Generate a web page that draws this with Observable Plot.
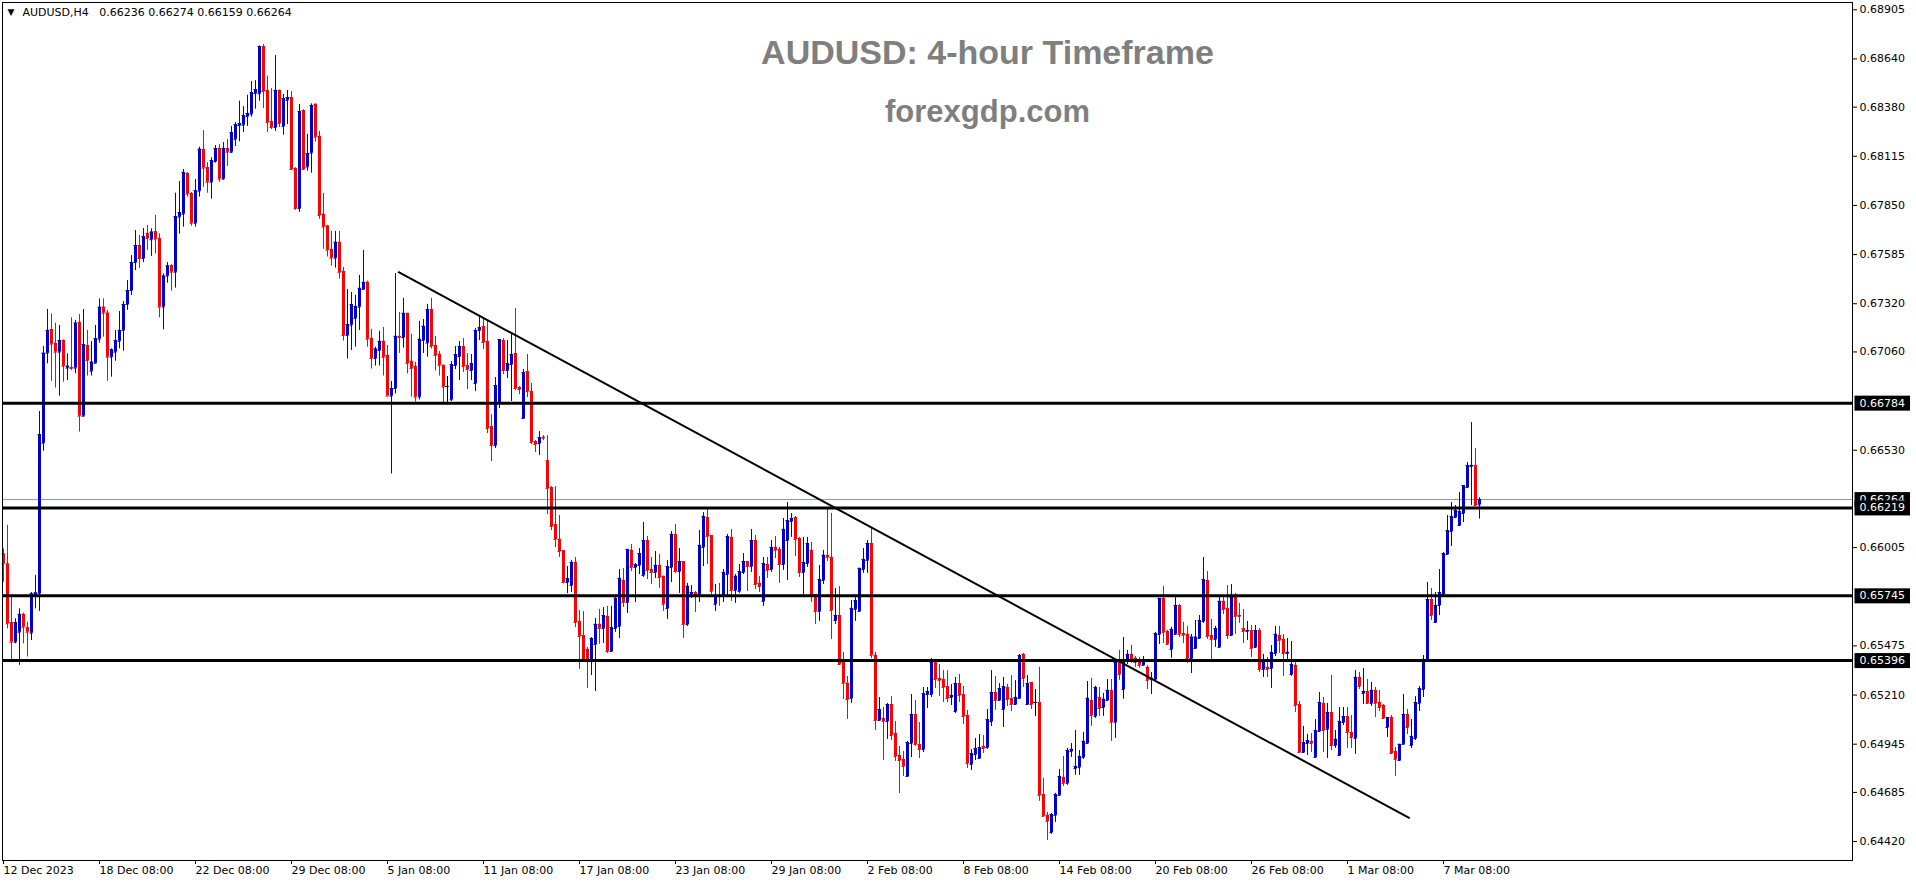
<!DOCTYPE html>
<html><head><meta charset="utf-8">
<script src="https://cdn.jsdelivr.net/npm/d3@7"></script>
<script src="https://cdn.jsdelivr.net/npm/@observablehq/plot@0.6"></script>
<style>body{margin:0;background:#fff;overflow:hidden}</style>
</head><body><div id="chart"></div>
<script>
// AUDUSD H4 candles, prices in points (1e-5), bar 0 = 12 Dec 2023 08:00
const openPts = [65971,65917,65601,65495,65549,65645,65573,65544,65749,65756,66568,67053,67181,67106,67059,67122,66973,66976,66973,67219,66714,67095,66956,66999,67129,67301,67269,67032,67059,67118,67176,67316,67391,67542,67634,67564,67699,67665,67708,67672,67302,67469,67526,67490,67787,67803,68022,67914,67754,67927,68152,68054,67975,68087,68157,67992,68157,68137,68207,68281,68283,68329,68342,68453,68452,68707,68470,68302,68270,68470,68276,68417,68432,68049,67833,68362,68057,68132,68395,68222,67802,67739,67613,67566,67651,67494,67149,67205,67241,67302,67397,67435,67133,67025,67068,67117,67041,66822,66863,67144,67138,67268,67009,66982,66817,67122,67108,67289,67095,67047,66988,66874,66802,66987,67035,67089,66987,66960,66890,67175,67197,67116,66658,66555,66787,67121,66960,66992,67051,66868,66701,66954,66846,66577,66566,66600,66474,66329,66129,66049,65989,65817,65801,65925,65607,65531,65456,65396,65483,65591,65569,65634,65445,65569,65580,65828,65709,65990,65898,65909,65855,66043,65887,65871,65909,65850,65677,65898,66076,65876,65930,65591,65752,65763,65752,66006,66167,66070,65699,65747,65742,65860,66060,65774,65769,65871,65930,65903,66043,65812,65715,65914,65887,66006,65995,65914,66043,66146,66167,66054,65871,65919,65990,65752,65661,65828,65963,65952,65612,65639,65386,65273,65192,65672,65661,65887,65936,66027,65424,65073,65084,65068,65159,65003,64884,64863,64771,64949,65105,64943,64916,65213,65213,65385,65299,65294,65256,65197,65121,65272,65213,65100,64836,64889,64868,64933,64927,65067,65224,65181,65132,65251,65191,65159,65191,65429,65159,65278,65170,65170,64674,64561,64469,64561,64669,64766,64734,64906,64814,64820,64874,64949,65181,65095,65197,65143,65181,65235,65063,65386,65240,65397,65429,65408,65391,65370,65359,65294,65294,65537,65731,65553,65456,65537,65693,65542,65537,65407,65461,65515,65607,65828,65531,65510,65467,65715,65677,65531,65736,65639,65569,65553,65558,65467,65558,65348,65359,65353,65434,65531,65510,65434,65321,65370,65159,64900,64949,64960,64874,65014,65165,65025,65116,64938,64884,65062,65094,65008,64976,65305,65218,65229,65165,65235,65170,65154,65035,65089,64906,64857,64944,65105,64938,64976,65165,65240,65402,65725,65601,65693,65752,65968,66092,66167,66124,66189,66329,66442,66448,66236];
const highPts = [65998,66124,65738,65621,65675,65652,65603,65763,65855,66739,67089,67289,67265,67215,67203,67125,67050,67244,67230,67262,67289,67176,67116,67203,67346,67346,67283,67077,67176,67278,67332,67445,67580,67715,67688,67726,67742,67724,67796,67697,67481,67542,67530,67916,67979,68044,68028,67920,67990,68164,68254,68081,68107,68173,68178,68189,68205,68276,68297,68412,68383,68444,68518,68523,68710,68718,68547,68480,68658,68473,68448,68470,68464,68054,68394,68366,68233,68398,68398,68249,67915,67742,67710,67710,67710,67516,67397,67381,67365,67473,67607,67442,67182,67086,67171,67192,67095,66901,67483,67273,67349,67268,67155,67004,67225,67235,67316,67349,67144,67063,66988,66928,67008,67089,67116,67132,67051,67046,67186,67251,67235,67229,66722,66922,67127,67132,67121,67159,67294,66873,66965,67046,66890,66582,66631,66609,66609,66334,66334,66178,65989,65903,65935,65952,65666,65660,65466,65520,65623,65672,65682,65688,65688,65742,65887,65893,65995,66022,65919,66000,66141,66065,65952,65984,65968,65850,65936,66092,66130,66000,65930,65812,65801,65769,66097,66194,66216,66070,65806,65812,65887,66076,66103,65860,65914,65973,65930,66103,66070,65849,65952,65952,66043,66065,66006,66162,66248,66189,66173,66060,66060,66060,66033,65752,65909,65990,66216,66189,65785,65796,65440,65310,65720,65742,65893,66000,66043,66108,65440,65197,65143,65165,65202,65067,64933,64906,64960,65213,65181,65062,65251,65251,65407,65391,65375,65342,65342,65267,65305,65321,65256,65127,64916,64976,64997,64992,65132,65342,65310,65272,65305,65267,65315,65288,65429,65434,65315,65278,65240,65359,64761,64577,64572,64680,64809,64879,64922,64949,65019,64911,65009,65283,65300,65257,65251,65219,65294,65294,65402,65451,65521,65451,65478,65418,65413,65418,65370,65332,65548,65731,65796,65558,65575,65736,65699,65602,65580,65537,65612,65639,65952,65876,65618,65580,65736,65736,65801,65806,65758,65704,65671,65607,65585,65585,65569,65429,65413,65477,65580,65580,65537,65515,65499,65386,65175,65041,64998,65003,65078,65224,65197,65165,65316,65019,65143,65143,65143,65100,65342,65332,65353,65294,65278,65251,65235,65159,65089,65100,64927,64944,65213,65132,65078,65202,65256,65423,65817,65785,65763,65887,65979,66178,66248,66232,66302,66340,66464,66679,66539,66274];
const lowPts = [65818,65567,65400,65486,65370,65486,65415,65504,65675,65661,66525,66996,66902,66865,66822,66897,66906,66960,66942,66628,66708,66930,66930,66999,67107,67140,66902,66924,67010,67077,67064,67284,67364,67499,67510,67542,67607,67575,67589,67244,67179,67431,67388,67404,67695,67733,67895,67738,67733,67895,67948,67916,67884,68078,67975,67986,68060,68130,68168,68193,68243,68276,68326,68369,68412,68373,68243,68259,68249,68270,68229,68286,68038,67823,67812,68039,68035,68024,68192,67775,67613,67572,67523,67512,67453,67119,67022,67068,67086,67176,67397,67086,66968,66984,66984,66930,66822,66402,66833,67052,67081,66941,66817,66790,66801,67052,67032,67076,66957,66930,66775,66775,66793,66965,66906,66949,66857,66906,66846,67121,67073,66620,66469,66539,66755,66938,66917,66793,66852,66830,66701,66814,66561,66518,66501,66582,66183,66097,66005,65952,65810,65757,65763,65574,65348,65396,65245,65315,65229,65483,65488,65434,65445,65548,65515,65682,65650,65876,65709,65860,65844,65833,65806,65839,65785,65661,65618,65817,65866,65758,65515,65580,65731,65655,65709,65903,65914,65752,65661,65688,65709,65742,65715,65704,65758,65860,65768,65871,65779,65763,65688,65839,65871,65946,65812,65882,65828,66060,65957,65844,65752,65898,65709,65591,65607,65806,65930,65510,65591,65370,65186,65079,65165,65607,65661,65866,65866,65407,65019,65073,64857,64971,64965,64852,64679,64771,64771,64873,64933,64868,64900,65137,65197,65245,65202,65170,65170,65154,65111,65170,65051,64814,64803,64857,64868,64895,64916,65040,65127,65181,65035,65148,65121,65154,65186,65251,65159,65132,65094,64637,64556,64426,64459,64523,64663,64717,64723,64874,64777,64777,64863,64949,65041,65084,65095,65095,65181,64960,64976,65289,65187,65375,65381,65359,65354,65370,65240,65213,65289,65483,65488,65478,65408,65537,65521,65488,65380,65326,65456,65515,65596,65510,65402,65467,65467,65644,65510,65531,65537,65596,65488,65504,65413,65461,65332,65305,65305,65246,65418,65434,65310,65396,65310,65116,64900,64900,64884,64900,64868,65008,64900,64868,64911,64922,64884,65046,64922,64922,64890,65240,65159,65159,65148,65089,65121,65078,64981,64895,64771,64852,64944,64997,64922,64965,65121,65197,65402,65612,65601,65639,65752,65968,66011,66167,66124,66140,66329,66232,66227,66159];
const closePts = [65917,65594,65495,65601,65645,65576,65549,65756,65761,66615,67053,67176,67102,67059,67122,66983,66983,66971,67215,66714,67100,67014,67005,67132,67301,67269,67032,67073,67122,67176,67316,67391,67542,67634,67564,67682,67672,67706,67668,67302,67469,67524,67490,67790,67812,68028,67911,67754,67930,68153,68051,67975,68092,68157,67992,68157,68137,68243,68286,68292,68335,68346,68459,68475,68707,68464,68297,68270,68470,68292,68426,68432,68044,67833,68356,68044,68130,68389,68218,67796,67733,67609,67566,67651,67489,67149,67208,67316,67305,67403,67435,67129,67025,67076,67117,67031,66822,66863,67144,67138,67268,66998,66971,66817,67128,67198,67289,67090,67041,66988,66871,66874,66992,67046,67089,66981,66965,66997,67175,67191,67111,66647,66555,66879,67127,66960,66997,67046,66863,66857,66949,66846,66572,66561,66598,66595,66324,66119,66049,65984,65817,65838,65925,65601,65526,65396,65396,65515,65591,65569,65639,65445,65574,65731,65839,65709,65995,65898,65914,65973,66043,65882,65871,65909,65844,65699,65903,66076,65876,65930,65591,65796,65763,65752,66017,66173,66065,65769,65747,65742,65871,66065,65774,65850,65876,65930,65903,66043,65806,65795,65919,65882,66006,65990,65914,66103,66151,66162,66049,65871,65925,66027,65752,65661,65833,65963,65952,65666,65639,65375,65273,65186,65677,65720,65893,65941,66027,65424,65073,65132,65068,65159,64992,64879,64857,64825,64954,65105,64943,64916,65218,65229,65385,65294,65288,65251,65191,65208,65272,65208,65094,64841,64895,64922,64927,64922,65078,65224,65181,65245,65256,65186,65159,65197,65423,65299,65272,65159,65170,64669,64556,64529,64566,64674,64771,64734,64911,64917,64825,64879,64960,65192,65100,65251,65138,65187,65235,65063,65386,65321,65397,65429,65397,65386,65370,65391,65289,65300,65542,65731,65548,65483,65564,65693,65537,65532,65407,65522,65522,65612,65833,65526,65510,65569,65715,65671,65531,65736,65634,65634,65553,65558,65461,65558,65348,65386,65348,65440,65537,65504,65434,65440,65375,65154,64900,64954,64965,64949,65019,65170,65019,65116,64938,64971,65068,65094,65008,64981,65305,65256,65229,65165,65235,65165,65143,65084,65089,64895,64863,64944,65105,65035,64987,65170,65245,65402,65725,65639,65693,65763,65973,66097,66173,66205,66200,66340,66448,66448,66232,66264];

const xTickBars = [0,24,48,72,96,120,144,168,192,216,240,264,288,312,336,360];
const xTickLabels = ["12 Dec 2023","18 Dec 08:00","22 Dec 08:00","29 Dec 08:00","5 Jan 08:00","11 Jan 08:00","17 Jan 08:00","23 Jan 08:00","29 Jan 08:00","2 Feb 08:00","8 Feb 08:00","14 Feb 08:00","20 Feb 08:00","26 Feb 08:00","1 Mar 08:00","7 Mar 08:00"];
const yTickValues = [0.68905,0.68640,0.68380,0.68115,0.67850,0.67585,0.67320,0.67060,0.66530,0.66005,0.65475,0.65210,0.64945,0.64685,0.64420];
const levels = [0.66784,0.66219,0.65745,0.65396];
const bidPrice = [0.66264];
const trendPoints = [{bar:98.8, price:0.67490},{bar:351.4, price:0.64548}];
const titleText = "AUDUSD: 4-hour Timeframe";
const subtitleText = "forexgdp.com";
const headerText = "AUDUSD,H4\u00a0\u00a0 0.66236 0.66274 0.66159 0.66264";

const bars = openPts.map((o,i)=>({i, open:o/1e5, high:highPts[i]/1e5, low:lowPts[i]/1e5, close:closePts[i]/1e5}));
const col = d => d.close > d.open ? "#0000cd" : d.close < d.open ? "#ff0000" : "#000000";

const chart = Plot.plot({
  width: 1916, height: 884,
  marginLeft: 2, marginTop: 2, marginRight: 64, marginBottom: 24,
  style: {fontFamily: "DejaVu Sans", fontSize: "11px", background: "white", color: "black"},
  x: {type: "linear", domain: [-0.25, 462.25]},
  y: {type: "linear", domain: [0.643179, 0.689442]},
  marks: [
    Plot.ruleY(bidPrice, {stroke: "#8c97a3", strokeWidth: 1}),
    Plot.ruleX(bars, {x: "i", y1: "low", y2: "high", stroke: col, strokeWidth: 1}),
    Plot.ruleX(bars, {x: "i", y1: "open", y2: "close", stroke: col, strokeWidth: 3}),
    Plot.ruleY(bars, {y: "open", x1: d => d.i - 0.375, x2: d => d.i + 0.375, stroke: col, strokeWidth: 1}),
    Plot.ruleY(bars, {y: "close", x1: d => d.i - 0.375, x2: d => d.i + 0.375, stroke: col, strokeWidth: 1}),
    Plot.ruleY(levels, {stroke: "black", strokeWidth: 3}),
    Plot.line(trendPoints, {x: "bar", y: "price", stroke: "black", strokeWidth: 2}),
    Plot.frame({stroke: "black"}),
    Plot.axisX(xTickBars, {anchor: "bottom", tickSize: 4, tickPadding: 2, textAnchor: "start", fontSize: 11, label: null, tickFormat: d => xTickLabels[xTickBars.indexOf(d)]}),
    Plot.axisY(yTickValues, {anchor: "right", tickSize: 4, tickPadding: 3, fontSize: 11, label: null, tickFormat: d => d.toFixed(5)}),
    Plot.text(bidPrice, {y: d => d, text: d => d.toFixed(5), frameAnchor: "right", textAnchor: "start", lineAnchor: "middle", dx: 7, fill: "#fffffd", fontSize: 11}),
    Plot.text(levels, {y: d => d, text: d => d.toFixed(5), frameAnchor: "right", textAnchor: "start", lineAnchor: "middle", dx: 7, fill: "#fffffe", fontSize: 11}),
    Plot.text([titleText], {text: d => d, frameAnchor: "top", lineAnchor: "middle", dx: 60, dy: 51, fill: "#7f7f7f", fontSize: 34, fontWeight: "bold", fontFamily: "Liberation Sans"}),
    Plot.text([subtitleText], {text: d => d, frameAnchor: "top", lineAnchor: "middle", dx: 60, dy: 110, fill: "#7f7f7f", fontSize: 31, fontWeight: "bold", fontFamily: "Liberation Sans"}),
    Plot.text(["\u25BC"], {text: d => d, frameAnchor: "top-left", textAnchor: "start", lineAnchor: "middle", dx: 5, dy: 10, fill: "black", fontSize: 9}),
    Plot.text([headerText], {text: d => d, frameAnchor: "top-left", textAnchor: "start", lineAnchor: "middle", dx: 20, dy: 10, fill: "black", fontSize: 11})
  ]
});
document.getElementById("chart").appendChild(chart);

function boxLabels(fillKey, boxFill) {
  const texts = Array.from(chart.querySelectorAll("text")).filter(t => {
    let n = t;
    while (n && n !== chart) {
      if (n.getAttribute && n.getAttribute("fill") === fillKey) return true;
      n = n.parentNode;
    }
    return false;
  });
  texts.forEach(t => {
    const b = t.getBBox();
    const r = document.createElementNS("http://www.w3.org/2000/svg", "rect");
    r.setAttribute("x", b.x - 5);
    r.setAttribute("y", b.y + b.height / 2 - 7.5);
    r.setAttribute("width", b.width + 10);
    r.setAttribute("height", 15);
    r.setAttribute("fill", boxFill);
    const tr = t.getAttribute("transform");
    if (tr) r.setAttribute("transform", tr);
    t.parentNode.insertBefore(r, t);
  });
}
boxLabels("#fffffd", "#000000");
boxLabels("#fffffe", "#000000");
</script>
</body></html>
